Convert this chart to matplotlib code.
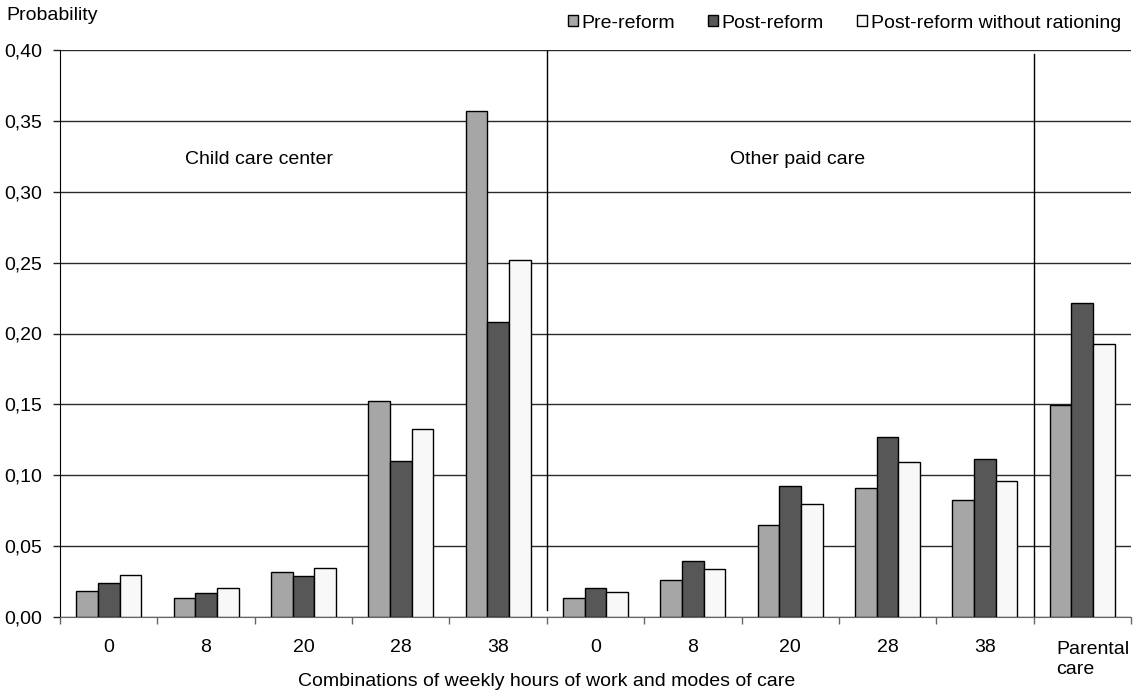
import matplotlib
matplotlib.use("Agg")
import matplotlib.pyplot as plt
import matplotlib.transforms as mtransforms
import numpy as np

categories = ["0", "8", "20", "28", "38", "0", "8", "20", "28", "38", "Parental\ncare"]
pre_reform = [0.0186, 0.0134, 0.0318, 0.1521, 0.3570, 0.0132, 0.0264, 0.0647, 0.0911, 0.0824, 0.1495]
post_reform = [0.0243, 0.0172, 0.0287, 0.1098, 0.2080, 0.0202, 0.0393, 0.0925, 0.1269, 0.1116, 0.2214]
post_no_ration = [0.0294, 0.0205, 0.0344, 0.1328, 0.2520, 0.0177, 0.0339, 0.0800, 0.1094, 0.0958, 0.1927]
series_names = ["Pre-reform", "Post-reform", "Post-reform without rationing"]
section_labels = ["Child care center", "Other paid care"]
y_ticks = [0.00, 0.05, 0.10, 0.15, 0.20, 0.25, 0.30, 0.35, 0.40]

plt.rcParams['font.family'] = ['Liberation Sans', 'DejaVu Sans']
FS = 14

W, H = 1135, 695
fig = plt.figure(figsize=(W / 100, H / 100), dpi=100)
left, right, top, bottom = 60, 1131, 50, 617
ax = fig.add_axes([left / W, 1 - bottom / H, (right - left) / W, (bottom - top) / H])

x = np.arange(len(categories))
bw = 0.2225
colors = ["#a6a6a6", "#575757", "#f8f8f8"]
for k, (vals, c, name) in enumerate(zip([pre_reform, post_reform, post_no_ration], colors, series_names)):
    ax.bar(x + (k - 1) * bw, vals, width=bw, color=c, edgecolor="black", linewidth=1.0,
           label=name, zorder=3)

ax.set_xlim(-0.5, len(categories) - 0.5)
ax.set_ylim(0, 0.40)
ax.set_yticks(y_ticks)
ax.set_yticklabels([f"{v:.2f}".replace(".", ",") for v in y_ticks], fontsize=FS)
ax.yaxis.grid(True, color="#2a2a2a", linewidth=1.0, zorder=0)
ax.set_axisbelow(True)

ax.set_xticks(x)
ax.set_xticklabels(categories, fontsize=FS, linespacing=1.2)
ax.tick_params(axis="x", length=0, pad=16)
for lbl in ax.get_xticklabels():
    if "\n" in lbl.get_text():
        lbl.set_horizontalalignment("left")
        lbl.set_multialignment("left")
        lbl.set_transform(lbl.get_transform() +
                          mtransforms.ScaledTranslation(-0.26, -0.02, fig.dpi_scale_trans))
ax.set_xticks(np.arange(-0.5, len(categories)), minor=True)
ax.tick_params(axis="x", which="minor", length=5, width=1, color="#666666")
ax.tick_params(axis="y", length=5, width=1, color="#222222", pad=8)

for s in ["top", "right"]:
    ax.spines[s].set_visible(False)
ax.spines["left"].set_color("black")
ax.spines["bottom"].set_color("#666666")

# section separators
ax.plot([4.5, 4.5], [0.005, 0.40], color="black", linewidth=1.0, zorder=4)
ax.plot([9.5, 9.5], [0.0, 0.397], color="black", linewidth=1.0, zorder=4)

ax.text(1.54, 0.323, section_labels[0], ha="center", va="center", fontsize=FS)
ax.text(7.08, 0.323, section_labels[1], ha="center", va="center", fontsize=FS)

fig.text(6 / W, 1 - 15 / H, "Probability", ha="left", va="center", fontsize=FS)
fig.text(547 / W, 1 - 682 / H, "Combinations of weekly hours of work and modes of care",
         ha="center", va="center", fontsize=FS)

fig.legend(loc="center right", bbox_to_anchor=(1121 / W, 1 - 23 / H), ncol=3, frameon=False,
           fontsize=FS, handlelength=0.5, handleheight=0.5, handletextpad=0.2,
           columnspacing=1.7, borderpad=0, borderaxespad=0)

fig.savefig("out.png", dpi=100)
